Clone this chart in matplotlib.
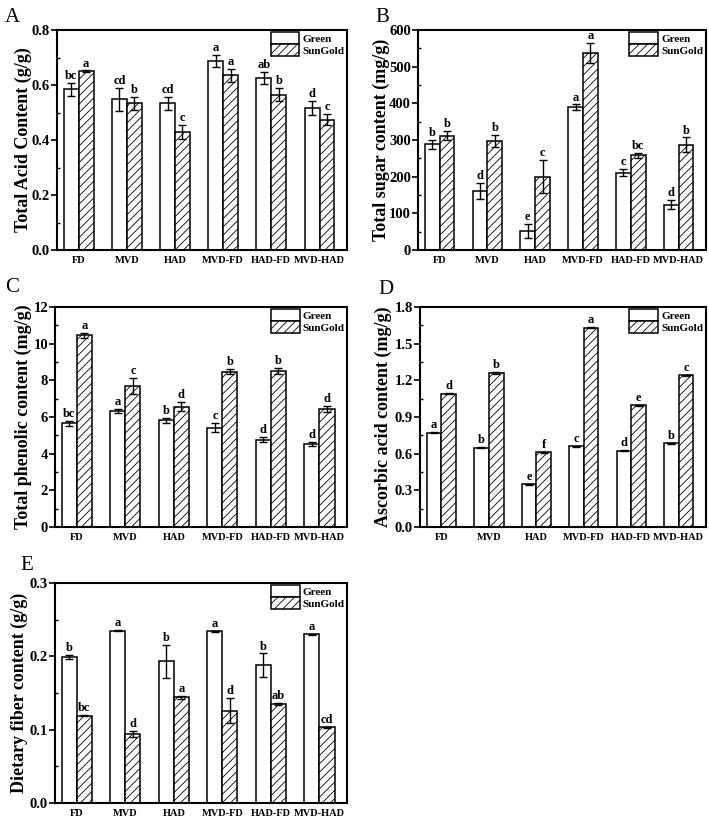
import matplotlib.pyplot as plt
import numpy as np
from matplotlib.ticker import MultipleLocator

plt.rcParams['font.family'] = ['Liberation Serif', 'DejaVu Serif']
plt.rcParams['font.weight'] = 'bold'
plt.rcParams['hatch.color'] = '#555555'
plt.rcParams['hatch.linewidth'] = 0.6

methods = ['FD', 'MVD', 'HAD', 'MVD-FD', 'HAD-FD', 'MVD-HAD']

acid_green = [0.584, 0.549, 0.533, 0.687, 0.626, 0.516]
acid_green_err = [0.025, 0.042, 0.025, 0.022, 0.022, 0.026]
acid_gold = [0.650, 0.533, 0.429, 0.635, 0.565, 0.474]
acid_gold_err = [0.003, 0.025, 0.025, 0.025, 0.024, 0.021]
acid_green_lbl = ['bc', 'cd', 'cd', 'a', 'ab', 'd']
acid_gold_lbl = ['a', 'b', 'c', 'a', 'b', 'c']

sugar_green = [288, 160, 52, 389, 211, 124]
sugar_green_err = [12, 22, 20, 8, 10, 12]
sugar_gold = [312, 298, 200, 538, 259, 287]
sugar_gold_err = [12, 16, 45, 28, 7, 20]
sugar_green_lbl = ['b', 'd', 'e', 'a', 'c', 'd']
sugar_gold_lbl = ['b', 'b', 'c', 'a', 'bc', 'b']

phen_green = [5.65, 6.33, 5.82, 5.42, 4.77, 4.53]
phen_green_err = [0.15, 0.12, 0.15, 0.25, 0.15, 0.10]
phen_gold = [10.45, 7.70, 6.57, 8.47, 8.52, 6.43]
phen_gold_err = [0.15, 0.45, 0.25, 0.15, 0.15, 0.15]
phen_green_lbl = ['bc', 'a', 'b', 'c', 'd', 'd']
phen_gold_lbl = ['a', 'c', 'd', 'b', 'b', 'd']

vc_green = [0.770, 0.650, 0.350, 0.660, 0.625, 0.685]
vc_green_err = [0.005, 0.005, 0.005, 0.005, 0.005, 0.005]
vc_gold = [1.090, 1.260, 0.612, 1.630, 0.995, 1.240]
vc_gold_err = [0.005, 0.005, 0.005, 0.005, 0.005, 0.005]
vc_green_lbl = ['a', 'b', 'e', 'c', 'd', 'b']
vc_gold_lbl = ['d', 'b', 'f', 'a', 'e', 'c']

fiber_green = [0.199, 0.235, 0.193, 0.234, 0.188, 0.230]
fiber_green_err = [0.003, 0.001, 0.023, 0.001, 0.016, 0.001]
fiber_gold = [0.119, 0.094, 0.144, 0.126, 0.135, 0.103]
fiber_gold_err = [0.001, 0.004, 0.002, 0.017, 0.001, 0.001]
fiber_green_lbl = ['b', 'a', 'b', 'a', 'b', 'a']
fiber_gold_lbl = ['bc', 'd', 'a', 'd', 'ab', 'cd']

x = np.arange(len(methods))
width = 0.31


def draw(ax, green, green_err, gold, gold_err, green_lbl, gold_lbl,
         ymax, step, ylabel, fmt, label_x):
    ax.bar(x - width / 2, green, width, yerr=green_err, color='white',
           edgecolor='black', linewidth=1.1, label='Green',
           error_kw=dict(elinewidth=1.0, capsize=3, capthick=1.0))
    ax.bar(x + width / 2, gold, width, yerr=gold_err, color='white',
           edgecolor='black', linewidth=1.1, hatch='////', label='SunGold',
           error_kw=dict(elinewidth=1.0, capsize=3, capthick=1.0))
    off = ymax * 0.004
    for i in range(len(methods)):
        ax.text(x[i] - width / 2, green[i] + green_err[i] + off, green_lbl[i],
                ha='center', va='bottom', fontsize=9, fontweight='bold')
        ax.text(x[i] + width / 2, gold[i] + gold_err[i] + off, gold_lbl[i],
                ha='center', va='bottom', fontsize=9, fontweight='bold')

    ax.set_xlim(-0.45, 5.57)
    ax.set_ylim(0, ymax)
    ax.yaxis.set_major_locator(MultipleLocator(step))
    ax.yaxis.set_minor_locator(MultipleLocator(step / 2))
    ax.yaxis.set_major_formatter(fmt)
    ax.set_xticks(x, labels=methods)
    ax.tick_params(axis='x', length=0, labelsize=7.5, pad=4)
    ax.tick_params(axis='y', which='major', direction='out', length=4,
                   width=1.2, labelsize=10.5, pad=1)
    ax.tick_params(axis='y', which='minor', direction='in', length=2.5, width=1.0)
    for s in ax.spines.values():
        s.set_linewidth(1.5)
    ax.set_ylabel(ylabel, fontsize=13, fontweight='bold')
    ax.yaxis.set_label_coords(label_x, 0.5)
    ax.legend(loc='upper right', frameon=False, fontsize=8,
              handlelength=2.6, handleheight=1.2, handletextpad=0.3,
              labelspacing=0.05, borderaxespad=0.1, borderpad=0.1)
    return ax


def main():
    fig = plt.figure(figsize=(7.09, 8.19), dpi=100)
    axA = fig.add_axes([0.0804, 0.6947, 0.409, 0.2686])
    axB = fig.add_axes([0.5896, 0.6947, 0.406, 0.2686])
    axC = fig.add_axes([0.0776, 0.3565, 0.412, 0.2687])
    axD = fig.add_axes([0.5924, 0.3565, 0.403, 0.2687])
    axE = fig.add_axes([0.0776, 0.0195, 0.412, 0.2687])

    draw(axA, acid_green, acid_green_err, acid_gold, acid_gold_err,
         acid_green_lbl, acid_gold_lbl, 0.8, 0.2,
         'Total Acid Content (g/g)', '{x:.1f}', -0.086)
    draw(axB, sugar_green, sugar_green_err, sugar_gold, sugar_gold_err,
         sugar_green_lbl, sugar_gold_lbl, 600, 100,
         'Total sugar content (mg/g)', '{x:.0f}', -0.097)
    draw(axC, phen_green, phen_green_err, phen_gold, phen_gold_err,
         phen_green_lbl, phen_gold_lbl, 12, 2,
         'Total phenolic content (mg/g)', '{x:.0f}', -0.079)
    draw(axD, vc_green, vc_green_err, vc_gold, vc_gold_err,
         vc_green_lbl, vc_gold_lbl, 1.8, 0.3,
         'Ascorbic acid content (mg/g)', '{x:.1f}', -0.098)
    draw(axE, fiber_green, fiber_green_err, fiber_gold, fiber_gold_err,
         fiber_green_lbl, fiber_gold_lbl, 0.3, 0.1,
         'Dietary fiber content (g/g)', '{x:.1f}', -0.092)

    # panel letters, placed in pixel positions of the figure
    W, H = 709, 819
    for lt, px, py in [('A', 5, 18), ('B', 375, 17), ('C', 5, 287),
                       ('D', 378, 289), ('E', 20, 566)]:
        fig.text(px / W, 1 - py / H, lt, fontsize=15, fontweight='normal',
                 ha='left', va='center')

    plt.savefig('out.png', dpi=100)
    return


if __name__ == '__main__':
    main()
